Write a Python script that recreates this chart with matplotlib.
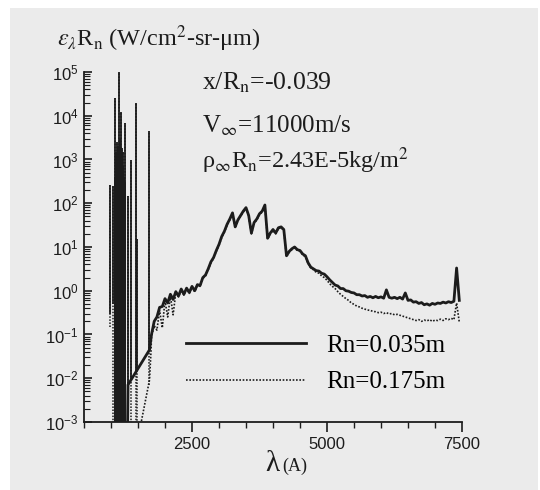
import numpy as np
import matplotlib
matplotlib.use("Agg")
import matplotlib.pyplot as plt
from matplotlib.patches import Rectangle
from matplotlib.ticker import LogLocator, MultipleLocator, FixedLocator

plt.rcParams["font.family"] = "Liberation Sans"
plt.rcParams["mathtext.fontset"] = "stix"

# spectral lines (wavelength in A, peak and foot of each line)
line_wl = [980, 1033, 1065, 1083, 1095, 1105, 1115, 1125, 1135, 1149,
           1160, 1170, 1180, 1193, 1205, 1218, 1230, 1243, 1254, 1266,
           1315, 1364, 1456, 1490, 1695,
           1074, 1090, 1100, 1110, 1120, 1130, 1142, 1155, 1165, 1175,
           1187, 1199, 1211, 1224, 1236, 1248, 1260]
line_peak = [260, 250, 400, 2.5e4, 1500, 2500, 800, 2000, 600, 1e5,
             1200, 3000, 900, 1.2e4, 1800, 700, 1500, 400, 7e3, 300,
             150, 980, 2e4, 15, 4.6e3,
             120, 300, 200, 450, 150, 350, 250, 180, 400, 220,
             300, 160, 250, 120, 200, 90, 150]
line_base_035 = [0.3, 0.5] + [1e-4] * 18 + [0.007, 0.0085, 0.013, 0.015, 0.042] + [1e-4] * 17
line_base_175 = [0.15] + [1e-4] * 22 + [0.0004, 0.007] + [1e-4] * 17

# continuum, short-wave part (log10 of eps*Rn)
low_wl_035 = [1300, 1315, 1713]
low_log_035 = [-4.0, -2.15, -1.35]
low_wl_175 = [1480, 1713, 1740]
low_log_175 = [-3.5, -2.04, -1.4]

# continuum from 1750 A in 50 A steps (log10 of eps*Rn)
log_035 = [
    -1.00, -0.70, -0.60, -0.38, -0.36, -0.18, -0.28, -0.08, -0.20, -0.02,
    -0.12, 0.04, -0.08, 0.06, -0.04, 0.10, 0.00, 0.14, 0.12, 0.30,
    0.36, 0.50, 0.66, 0.76, 0.92, 1.06, 1.24, 1.36, 1.52, 1.64,
    1.78, 1.46, 1.62, 1.72, 1.82, 1.90, 1.72, 1.32, 1.56, 1.64,
    1.76, 1.82, 1.96, 1.20, 1.32, 1.40, 1.32, 1.44, 1.46, 1.40,
    0.80, 0.90, 0.96, 1.00, 0.94, 0.92, 0.84, 0.80, 0.64, 0.54,
    0.50, 0.46, 0.45, 0.40, 0.38, 0.32, 0.25, 0.19, 0.13, 0.11,
    0.05, 0.05, 0.00, -0.01, -0.04, -0.05, -0.09, -0.09, -0.12, -0.11,
    -0.15, -0.13, -0.16, -0.13, -0.16, -0.14, -0.17, 0.02, -0.15, -0.17,
    -0.15, -0.18, -0.15, -0.19, -0.05, -0.22, -0.21, -0.26, -0.25, -0.29,
    -0.27, -0.32, -0.30, -0.33, -0.29, -0.31, -0.28, -0.29, -0.26, -0.28,
    -0.25, -0.27, -0.24, 0.52, -0.22,
]
log_175 = [
    -1.05, -0.80, -0.90, -0.45, -0.85, -0.22, -0.60, -0.12, -0.55, -0.04,
    -0.14, 0.02, -0.10, 0.04, -0.06, 0.08, -0.02, 0.12, 0.10, 0.28,
    0.34, 0.48, 0.64, 0.74, 0.90, 1.04, 1.22, 1.34, 1.50, 1.62,
    1.76, 1.44, 1.60, 1.70, 1.80, 1.88, 1.70, 1.30, 1.54, 1.62,
    1.74, 1.80, 1.94, 1.18, 1.30, 1.38, 1.30, 1.42, 1.44, 1.38,
    0.78, 0.88, 0.94, 0.98, 0.92, 0.90, 0.82, 0.78, 0.62, 0.52,
    0.48, 0.42, 0.40, 0.34, 0.30, 0.24, 0.16, 0.10, 0.05, -0.02,
    -0.08, -0.13, -0.18, -0.22, -0.28, -0.31, -0.35, -0.37, -0.40, -0.42,
    -0.44, -0.45, -0.47, -0.48, -0.50, -0.49, -0.52, -0.50, -0.53, -0.52,
    -0.55, -0.54, -0.56, -0.58, -0.60, -0.62, -0.64, -0.66, -0.68, -0.66,
    -0.70, -0.67, -0.69, -0.66, -0.70, -0.67, -0.68, -0.65, -0.68, -0.64,
    -0.66, -0.63, -0.66, -0.28, -0.72,
]
grid_wl = np.arange(1750, 1750 + 50 * len(log_035), 50)

wl_035 = np.concatenate([low_wl_035, grid_wl])
eps_035 = 10 ** np.concatenate([low_log_035, log_035])
wl_175 = np.concatenate([low_wl_175, grid_wl[:len(log_175)]])
eps_175 = 10 ** np.concatenate([low_log_175, log_175])

ink = "#1c1c1c"
serif = "Liberation Serif"

fig = plt.figure(figsize=(5.4, 4.9), dpi=100, facecolor="white")
fig.add_artist(Rectangle((10 / 540, 0), 528 / 540, 482 / 490, transform=fig.transFigure,
                         facecolor="#ebebeb", edgecolor="none", zorder=-10))
ax = fig.add_axes([84 / 540, 68 / 490, 378 / 540, 350 / 490])
ax.set_facecolor("none")

ax.vlines(line_wl, line_base_175, line_peak, colors=ink, lw=1.1, linestyles=(0, (1, 1)))
ax.plot(wl_175, eps_175, color=ink, lw=1.2, ls=(0, (1, 1)), label="Rn=0.175m")
ax.vlines(line_wl, line_base_035, line_peak, colors=ink, lw=1.3)
ax.plot(wl_035, eps_035, color=ink, lw=2.0, label="Rn=0.035m")

ax.set_yscale("log")
ax.set_xlim(500, 7500)
ax.set_ylim(1e-3, 1e5)

ax.xaxis.set_major_locator(FixedLocator([2500, 5000, 7500]))
ax.xaxis.set_minor_locator(MultipleLocator(500))
ax.yaxis.set_major_locator(LogLocator(base=10, numticks=20))
ax.yaxis.set_minor_locator(LogLocator(base=10, subs=np.arange(2, 10), numticks=100))

for s in ["top", "right"]:
    ax.spines[s].set_visible(False)
for s in ["left", "bottom"]:
    ax.spines[s].set_linewidth(1.3)
    ax.spines[s].set_color(ink)

ax.tick_params(axis="x", which="major", direction="out", length=7, width=1.2, labelsize=12, pad=4, colors=ink)
ax.tick_params(axis="x", which="minor", direction="out", length=4, width=1.0, colors=ink)
ax.tick_params(axis="y", which="major", direction="in", length=6, width=1.2, labelsize=12, pad=4, colors=ink)
ax.tick_params(axis="y", which="minor", direction="in", length=4, width=0.8, colors=ink)

# labels
fig.text(57 / 540, 444 / 490, r"$\varepsilon_\lambda$R$_\mathrm{n}$ (W/cm$^2$-sr-μm)",
         family=serif, fontsize=17.5, ha="left", va="baseline", color=ink)
fig.text(265 / 540, 19 / 490, "λ", family=serif, fontsize=21, ha="left", va="baseline", color=ink)
fig.text(282 / 540, 19 / 490, "(A)", family=serif, fontsize=13, ha="left", va="baseline", color=ink)

ax.text(0.312, 0.949, r"x/R$_\mathrm{n}$=-0.039", transform=ax.transAxes,
        family=serif, fontsize=18.5, va="baseline", color=ink)
ax.text(0.312, 0.826, r"V$_\infty$=11000m/s", transform=ax.transAxes,
        family=serif, fontsize=18, va="baseline", color=ink)
ax.text(0.312, 0.726, r"ρ$_\infty$R$_\mathrm{n}$=2.43E-5kg/m$^2$", transform=ax.transAxes,
        family=serif, fontsize=17.5, va="baseline", color=ink)

handles, labels = ax.get_legend_handles_labels()
ax.legend(handles[::-1], labels[::-1], loc="center left", bbox_to_anchor=(0.27, 0.166),
          frameon=False, prop={"family": serif, "size": 18}, handlelength=4.8,
          handletextpad=0.8, labelspacing=0.55, borderpad=0, borderaxespad=0)

fig.savefig("out.png", dpi=100, facecolor=fig.get_facecolor())
